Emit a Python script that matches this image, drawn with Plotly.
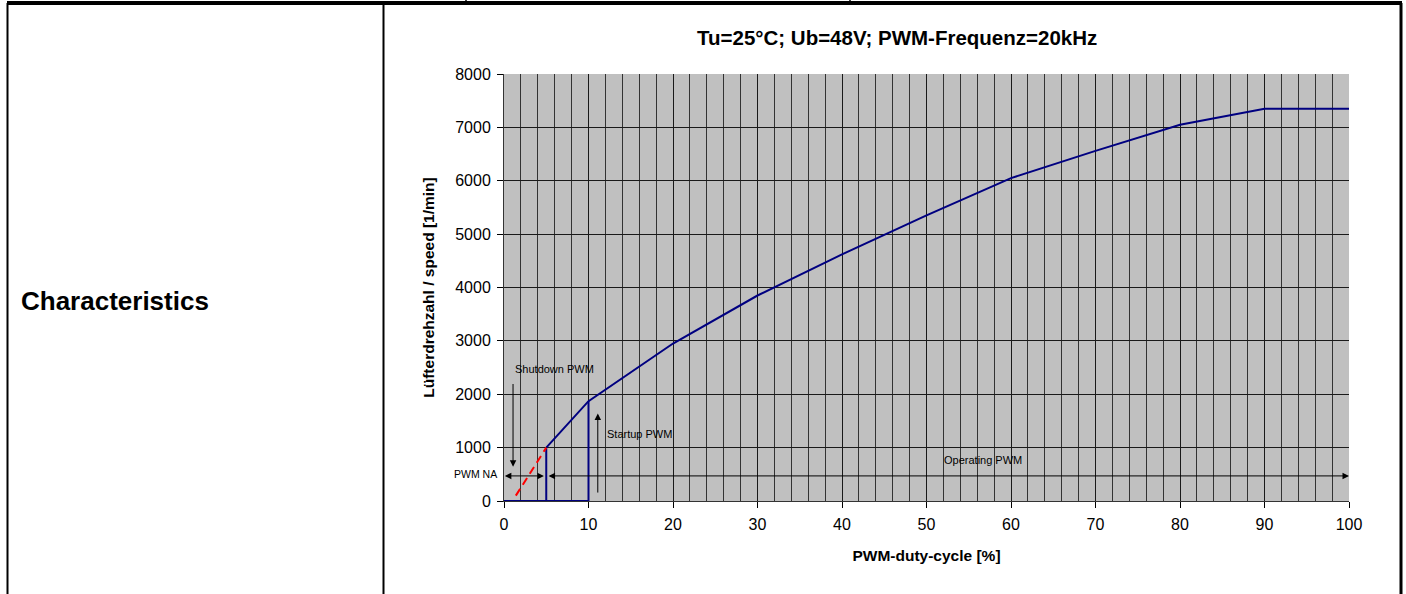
import plotly.graph_objects as go

# ---- data ----
duty = [5, 10, 20, 30, 40, 50, 60, 70, 80, 90, 100]
speed = [1000, 1870, 2950, 3850, 4620, 5350, 6050, 6560, 7050, 7350, 7350]

base_x = [0, 10]
base_y = [0, 0]
startup_x = [10, 10]
startup_y = [0, 1870]
shutdown_x = [5, 5]
shutdown_y = [0, 1000]
na_x = [1.4, 5]
na_y = [100, 1000]

x_ticks = [0, 10, 20, 30, 40, 50, 60, 70, 80, 90, 100]
y_ticks = [0, 1000, 2000, 3000, 4000, 5000, 6000, 7000, 8000]

FONT = "Liberation Sans, Arial, sans-serif"
NAVY = "#000080"

# plot area in pixels
W, H = 1406, 594
PL, PR, PT, PB = 504, 1349, 74, 501


def px(x):
    return (x - PL) / (PR - PL)


def py(y):
    return (PB - y) / (PB - PT)


fig = go.Figure()

line_style = dict(color=NAVY, width=2)
fig.add_trace(go.Scatter(x=duty, y=speed, mode="lines", line=line_style, showlegend=False))
fig.add_trace(go.Scatter(x=base_x, y=base_y, mode="lines", line=line_style, showlegend=False))
fig.add_trace(go.Scatter(x=startup_x, y=startup_y, mode="lines", line=line_style, showlegend=False))
fig.add_trace(go.Scatter(x=shutdown_x, y=shutdown_y, mode="lines", line=line_style, showlegend=False))
fig.add_trace(go.Scatter(x=na_x, y=na_y, mode="lines",
                         line=dict(color="#ff0000", width=2, dash="8px,5px"), showlegend=False))

annots = []
small = dict(family=FONT, size=11, color="#000000")

# text labels
annots.append(dict(x=6.0, y=2480, xref="x", yref="y", text="Shutdown PWM", showarrow=False,
                   font=small))
annots.append(dict(x=16.0, y=1255, xref="x", yref="y", text="Startup PWM", showarrow=False,
                   font=small))
annots.append(dict(x=56.7, y=760, xref="x", yref="y", text="Operating PWM", showarrow=False,
                   font=small))
annots.append(dict(x=px(499), y=py(474), xref="paper", yref="paper", text="PWM NA", showarrow=False,
                   xanchor="right", yanchor="middle", font=dict(family=FONT, size=10.5, color="#000000")))

arrow_common = dict(xref="x", yref="y", axref="x", ayref="y", text="", showarrow=True,
                    arrowhead=2, arrowsize=1.3, arrowwidth=1, arrowcolor="#000000")
# shutdown down arrow
annots.append(dict(x=1.07, y=640, ax=1.07, ay=2220, **arrow_common))
# startup up arrow
annots.append(dict(x=11.1, y=1640, ax=11.1, ay=130, **arrow_common))
# PWM NA double arrow
annots.append(dict(x=0.1, y=470, ax=4.9, ay=470, arrowside="end+start", **arrow_common))
# operating double arrow
annots.append(dict(x=100, y=470, ax=5.1, ay=470, arrowside="end+start", **arrow_common))

# title
annots.append(dict(x=px(897), y=py(38), xref="paper", yref="paper", text="<b>Tu=25°C; Ub=48V; PWM-Frequenz=20kHz</b>",
                   showarrow=False, xanchor="center", yanchor="middle",
                   font=dict(family=FONT, size=20.5, color="#000000")))
# table cell label
annots.append(dict(x=px(19), y=py(301), xref="paper", yref="paper", text="<b>Characteristics</b>",
                   showarrow=False, xanchor="left", yanchor="middle",
                   font=dict(family=FONT, size=26, color="#000000")))

shapes = []
# table borders
shapes.append(dict(type="line", xref="paper", yref="paper", x0=px(7), x1=px(1402), y0=py(3), y1=py(3),
                   line=dict(color="#000000", width=4), layer="above"))
for xx, w in [(7.5, 2), (383.5, 2), (1401, 3)]:
    shapes.append(dict(type="line", xref="paper", yref="paper", x0=px(xx), x1=px(xx), y0=py(3), y1=py(600),
                       line=dict(color="#000000", width=w), layer="above"))
for xx in [466, 850]:
    shapes.append(dict(type="line", xref="paper", yref="paper", x0=px(xx), x1=px(xx), y0=py(0), y1=py(5),
                       line=dict(color="#000000", width=1.5), layer="above"))

fig.update_layout(
    width=W, height=H,
    margin=dict(l=PL, r=W - PR, t=PT, b=H - PB, pad=0),
    paper_bgcolor="#ffffff",
    plot_bgcolor="#c0c0c0",
    annotations=annots,
    shapes=shapes,
    showlegend=False,
    font=dict(family=FONT, size=16, color="#000000"),
)

fig.update_xaxes(
    range=[0, 100], tickvals=x_ticks, ticktext=[str(v) for v in x_ticks],
    showgrid=True, gridcolor="#1a1a1a", gridwidth=1,
    minor=dict(dtick=2, showgrid=True, gridcolor="#333333", gridwidth=1, ticks=""),
    ticks="outside", ticklen=6, tickcolor="#000000", tickwidth=1,
    showline=True, linecolor="#333333", linewidth=1,
    zeroline=False, ticklabelstandoff=3,
    tickfont=dict(family=FONT, size=16, color="#000000"),
    title=dict(text="<b>PWM-duty-cycle [%]</b>", font=dict(family=FONT, size=15.5), standoff=17),
)
fig.update_yaxes(
    range=[0, 8000], tickvals=y_ticks, ticktext=[str(v) for v in y_ticks],
    showgrid=True, gridcolor="#1a1a1a", gridwidth=1,
    ticks="outside", ticklen=6, tickcolor="#000000", tickwidth=1,
    showline=True, linecolor="#333333", linewidth=1,
    zeroline=False, ticklabelstandoff=3,
    tickfont=dict(family=FONT, size=16, color="#000000"),
    title=dict(text="<b>Lüfterdrehzahl / speed [1/min]</b>", font=dict(family=FONT, size=15.5), standoff=16),
)

fig.write_html("out.html", config={"displayModeBar": False},
               post_script="document.body.style.margin='0';document.body.style.padding='0';")
